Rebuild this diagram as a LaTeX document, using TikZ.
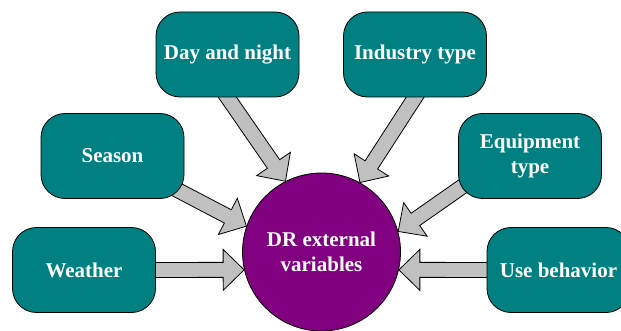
\documentclass[tikz,border=0pt]{standalone}
\usepackage{fontspec}
\setmainfont{Liberation Serif}
\usetikzlibrary{calc,backgrounds}
\definecolor{boxteal}{HTML}{008080}
\definecolor{hubpurple}{HTML}{800080}
\definecolor{arrowgray}{HTML}{C0C0C0}
\tikzset{
  varbox/.style={draw=black, line width=0.8pt, fill=boxteal, rounded corners=24pt,
    minimum width=143pt, minimum height=85pt, text=white, align=center, inner sep=2pt,
    font=\fontsize{21}{24.5}\selectfont\bfseries},
  hub/.style={circle, draw=black, line width=0.8pt, fill=hubpurple, minimum size=158pt,
    inner sep=0pt, text=white, align=center, font=\fontsize{21}{25}\selectfont\bfseries},
  blockarr/.style={draw=black, line width=0.8pt, fill=arrowgray, line join=miter}
}
\newcommand\blockarrow[2]{%
  \coordinate (ba-s) at #1;
  \coordinate (ba-t) at #2;
  \coordinate (ba-h) at ($(ba-t)!21pt!(ba-s)$);
  \draw[blockarr] ($(ba-s)!7.5pt!90:(ba-t)$) -- ($(ba-h)!7.5pt!90:(ba-t)$)
    -- ($(ba-h)!20.5pt!90:(ba-t)$) -- (ba-t) -- ($(ba-h)!20.5pt!-90:(ba-t)$)
    -- ($(ba-h)!7.5pt!-90:(ba-t)$) -- ($(ba-s)!7.5pt!-90:(ba-t)$) -- cycle;}
\begin{document}
\begin{tikzpicture}[x=1pt,y=-1pt]
  \clip (0,0) rectangle (621,331);
  \node[hub] (dr) at (321.5,252) {DR external\\variables};
  \node[varbox] (dn) at (227.5,54.5) {Day and night};
  \node[varbox] (ind) at (415,54.5) {Industry type};
  \node[varbox] (sea) at (112.5,156) {Season};
  \node[varbox] (eq) at (530,156) {Equipment\\type};
  \node[varbox] (wea) at (84,270) {Weather};
  \node[varbox] (ub) at (558.5,270) {Use behavior};
  \begin{pgfonlayer}{background}
    \blockarrow{(wea.center)}{(dr.193)}
    \blockarrow{(ub.center)}{(dr.-13)}
    \blockarrow{(sea.center)}{(dr.161.3)}
    \blockarrow{($(dr.117.2)!1.25!(dn.south)$)}{(dr.117.2)}
    \blockarrow{($(dr.61.2)!1.25!(ind.south)$)}{(dr.61.2)}
    \blockarrow{($(dr.15)!1.5!(eq.205.5)$)}{(dr.15)}
  \end{pgfonlayer}
\end{tikzpicture}
\end{document}
